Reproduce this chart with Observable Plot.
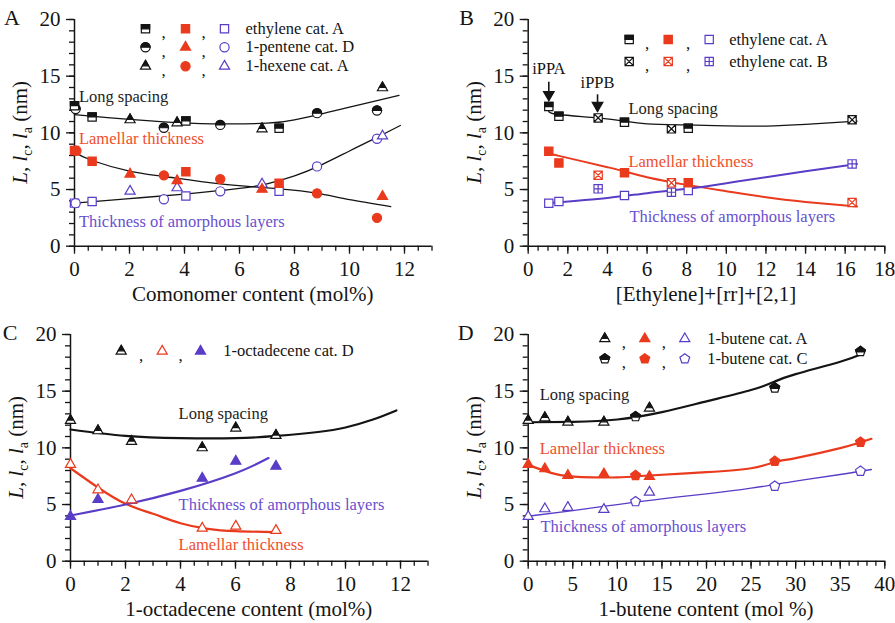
<!DOCTYPE html>
<html>
<head>
<meta charset="utf-8">
<script src="https://cdn.jsdelivr.net/npm/d3@7"></script>
<script src="https://cdn.jsdelivr.net/npm/@observablehq/plot@0.6"></script>
<style>
  body { margin: 0; background: #fff; }
  #fig { position: relative; width: 895px; height: 623px; overflow: hidden; font-family: "Liberation Serif", serif; }
</style>
</head>
<body>
<div id="fig"></div>
<script>
// ---------- Panel A: comonomer content (mol%) ----------
const aEthL   = [[0, 12.4], [0.64, 11.4], [4.05, 11.05], [7.44, 10.41]];
const aEthLc  = [[0, 8.45], [0.64, 7.5], [4.05, 6.56], [7.44, 5.56]];
const aEthLa  = [[0, 3.8], [0.64, 3.95], [4.05, 4.43], [7.44, 4.85]];
const aPenL   = [[0.04, 12.1], [3.25, 10.45], [5.3, 10.7], [8.82, 11.74], [11.0, 11.97]];
const aPenLc  = [[2.02, 6.36], [3.73, 5.78], [6.82, 5.02], [11.2, 4.39]];
const aPenLa  = [[0.04, 3.8], [3.25, 4.14], [5.3, 4.84], [8.82, 7.04], [11.0, 9.48]];
const aHexL   = [[2.02, 11.15], [3.73, 10.88], [6.82, 10.35], [11.2, 13.97]];
const aHexLc  = [[0.07, 8.42], [3.25, 6.25], [5.3, 5.92], [8.82, 4.66], [11.0, 2.5]];
const aHexLa  = [[2.02, 4.85], [3.73, 5.15], [6.82, 5.48], [11.2, 9.72]];
const aFitL   = [[0, 11.6], [1, 11.38], [2, 11.18], [3.25, 10.97], [5, 10.8], [7, 10.85], [8, 11.15], [9, 11.68], [10, 12.26], [11, 12.85], [11.8, 13.3]];
const aFitLc  = [[0, 8.3], [0.64, 7.56], [2, 6.62], [3.25, 6.15], [5.3, 5.5], [7.44, 5.06], [8.82, 4.68], [10, 4.1], [11.5, 3.5]];
const aFitLa  = [[0, 3.8], [2, 4.2], [4, 4.6], [6, 5.1], [7, 5.5], [8, 6.2], [9, 7.2], [10, 8.4], [11, 9.6], [11.85, 10.65]];

// ---------- Panel B: [Ethylene]+[rr]+[2,1] ----------
const bAL     = [[1.04, 12.32], [1.55, 11.47], [4.86, 10.94], [8.08, 10.41]];
const bALc    = [[1.04, 8.38], [1.55, 7.35], [4.86, 6.47], [8.08, 5.59]];
const bALa    = [[1.04, 3.79], [1.55, 3.94], [4.86, 4.47], [8.08, 4.91]];
const bBL     = [[3.53, 11.32], [7.23, 10.35], [16.35, 11.15]];
const bBLc    = [[3.53, 6.26], [7.23, 5.59], [16.35, 3.85]];
const bBLa    = [[3.53, 5.06], [7.23, 4.76], [16.35, 7.26]];
const bFitL   = [[1.04, 11.88], [1.55, 11.62], [3.5, 11.32], [4.86, 11.03], [6, 10.8], [8, 10.7], [10, 10.62], [12, 10.6], [14, 10.74], [16.6, 11.03]];
const bFitLc  = [[1.04, 8.15], [1.55, 7.97], [4, 6.97], [4.86, 6.6], [6, 6.09], [8, 5.41], [10, 4.85], [12, 4.32], [14, 3.91], [16.6, 3.5]];
const bFitLa  = [[1.04, 3.82], [4, 4.26], [6, 4.68], [8, 5.06], [10, 5.56], [12, 6.09], [14, 6.62], [16.6, 7.26]];
const bArrows = [
  {label: "iPPA", x: 1.04, top: 14.5, tip: 12.86, textY: 15.2},
  {label: "iPPB", x: 3.5, top: 13.4, tip: 11.9, textY: 14.0}
];

// ---------- Panel C: 1-octadecene content (mol%) ----------
const cL      = [[0, 12.41], [1.0, 11.5], [2.22, 10.56], [4.79, 10.0], [6.01, 11.74], [7.47, 11.09]];
const cLc     = [[0, 8.53], [1.0, 6.29], [2.22, 5.41], [4.79, 2.91], [6.01, 3.09], [7.47, 2.71]];
const cLa     = [[0, 3.94], [1.0, 5.44], [2.22, 5.35], [4.79, 7.32], [6.01, 8.82], [7.47, 8.38]];
const cFitL   = [[0, 11.62], [2, 11.05], [4, 10.85], [6, 10.85], [7.5, 11.05], [9, 11.4], [10, 11.8], [11, 12.5], [11.85, 13.3]];
const cFitLc  = [[0, 8.2], [1, 6.5], [2, 5.06], [3, 4.18], [4, 3.35], [5, 2.85], [6, 2.65], [7.5, 2.56]];
const cFitLa  = [[0, 4.03], [2, 5.0], [4, 6.2], [6, 7.76], [7.2, 9.1]];

// ---------- Panel D: 1-butene content (mol %) ----------
const dAL     = [[0, 12.41], [1.87, 12.65], [4.45, 12.26], [8.49, 12.26], [13.6, 13.5]];
const dALc    = [[0, 8.53], [1.87, 8.15], [4.45, 7.56], [8.49, 7.7], [13.6, 7.47]];
const dALa    = [[0, 3.94], [1.87, 4.62], [4.45, 4.74], [8.49, 4.56], [13.6, 6.09]];
const dCL     = [[12.04, 12.76], [27.66, 15.29], [37.27, 18.5]];
const dCLc    = [[12.04, 7.56], [27.66, 8.82], [37.27, 10.5]];
const dCLa    = [[12.04, 5.26], [27.66, 6.62], [37.27, 7.94]];
const dFitL   = [[0, 12.26], [5, 12.3], [10, 12.5], [15, 13.15], [20, 14.1], [25, 15.1], [27.66, 15.85], [30, 16.5], [35, 17.6], [37.5, 18.3]];
const dFitLc  = [[0, 8.5], [3, 7.7], [6, 7.42], [10, 7.4], [13.6, 7.56], [20, 7.85], [25, 8.2], [27.66, 8.74], [30, 9.1], [35, 9.97], [38.5, 10.8]];
const dFitLa  = [[0, 3.97], [5, 4.47], [10, 5.0], [15, 5.5], [20, 5.94], [25, 6.44], [30, 7.06], [35, 7.65], [38.5, 8.09]];

// ---------- curve annotations ----------
const aNotes = [
  {text: "Long spacing", x: 0.16, y: 12.71, kind: "L"},
  {text: "Lamellar thickness", x: 0.16, y: 9.06, kind: "lc"},
  {text: "Thickness of amorphous layers", x: 0.16, y: 1.65, kind: "la"}
];
const bNotes = [
  {text: "Long spacing", x: 5.06, y: 11.69, kind: "L"},
  {text: "Lamellar thickness", x: 5.06, y: 7.03, kind: "lc"},
  {text: "Thickness of amorphous layers", x: 5.11, y: 2.12, kind: "la"}
];
const cNotes = [
  {text: "Long spacing", x: 3.93, y: 12.57, kind: "L"},
  {text: "Thickness of amorphous layers", x: 3.93, y: 4.56, kind: "la"},
  {text: "Lamellar thickness", x: 3.93, y: 1.0, kind: "lc"}
];
const dNotes = [
  {text: "Long spacing", x: 1.3, y: 14.18, kind: "L"},
  {text: "Lamellar thickness", x: 1.3, y: 9.48, kind: "lc"},
  {text: "Thickness of amorphous layers", x: 1.38, y: 2.56, kind: "la"}
];

// ---------- styling ----------
const INK = "#141414", RED = "#ea3a1e", BLUE = "#5a3dc6";
const NOTE_COLOR = {L: "#1e1e1e", lc: "#f04e2c", la: "#6a4fd0"};
const FONT = "'Liberation Serif', 'Times New Roman', serif";
const R = 4.6;

// custom marker shapes (size is the symbol area, r = sqrt(size/π))
const rad = z => Math.sqrt(z / Math.PI);
function poly(c, p) { c.moveTo(p[0][0], p[0][1]); for (let i = 1; i < p.length; ++i) c.lineTo(p[i][0], p[i][1]); c.closePath(); }
function tri(z) { const a = rad(z) * 2.2, h = a * Math.sqrt(3) / 2; return {a, h}; }
function pent(z, cut) {
  const r = rad(z) * 1.12;
  const v = d3.range(5).map(k => { const t = (-90 + 72 * k) * Math.PI / 180; return [r * Math.cos(t), r * Math.sin(t)]; });
  if (!cut) return v;
  const yc = 0.1 * r, t = (yc - v[1][1]) / (v[2][1] - v[1][1]);
  const xc = v[1][0] + (v[2][0] - v[1][0]) * t;
  return [v[0], v[1], [xc, yc], [-xc, yc], v[4]];
}
const SYM = {
  square:      {draw(c, z) { const s = rad(z) * 0.9; poly(c, [[-s, -s], [s, -s], [s, s], [-s, s]]); }},
  squareTop:   {draw(c, z) { const s = rad(z) * 0.9; poly(c, [[-s, -s], [s, -s], [s, 0], [-s, 0]]); }},
  squareX:     {draw(c, z) { const s = rad(z) * 0.9; poly(c, [[-s, -s], [s, -s], [s, s], [-s, s]]); c.moveTo(-s, -s); c.lineTo(s, s); c.moveTo(s, -s); c.lineTo(-s, s); }},
  squarePlus:  {draw(c, z) { const s = rad(z) * 0.9; poly(c, [[-s, -s], [s, -s], [s, s], [-s, s]]); c.moveTo(0, -s); c.lineTo(0, s); c.moveTo(-s, 0); c.lineTo(s, 0); }},
  circle:      {draw(c, z) { const r = rad(z); c.moveTo(r, 0); c.arc(0, 0, r, 0, 2 * Math.PI); }},
  circleTop:   {draw(c, z) { const r = rad(z); c.moveTo(r, 0); c.arc(0, 0, r, 0, Math.PI, true); c.closePath(); }},
  triangle:    {draw(c, z) { const {a, h} = tri(z); poly(c, [[0, -2 * h / 3], [a / 2, h / 3], [-a / 2, h / 3]]); }},
  triangleTop: {draw(c, z) { const {a, h} = tri(z); const y = -2 * h / 3 + 0.62 * h; poly(c, [[0, -2 * h / 3], [0.31 * a, y], [-0.31 * a, y]]); }},
  pentagon:    {draw(c, z) { poly(c, pent(z, false)); }},
  pentagonTop: {draw(c, z) { poly(c, pent(z, true)); }}
};

const XY = {x: d => d[0], y: d => d[1]};

// a marker: "half" = black top half over white, "fill" = solid, "open" = outline on white
function marker(data, {shape, mode, color = INK}, pos = XY) {
  const base = {r: R, strokeWidth: 1.2, ...pos};
  if (mode === "half") return [
    Plot.dot(data, {...base, symbol: SYM[shape], fill: "white", stroke: color}),
    Plot.dot(data, {...base, symbol: SYM[shape + "Top"], fill: color, stroke: color})
  ];
  if (mode === "fill") return [Plot.dot(data, {...base, symbol: SYM[shape], fill: color, stroke: color})];
  return [Plot.dot(data, {...base, symbol: SYM[shape], fill: "white", stroke: color})];
}

function fit(data, color, w) {
  return Plot.line(data, {...XY, curve: "natural", stroke: color, strokeWidth: w});
}

function notes(data) {
  return Plot.text(data, {x: "x", y: "y", text: "text", fill: d => NOTE_COLOR[d.kind], textAnchor: "start", lineAnchor: "bottom", fontSize: 16.5});
}

// legend rows inside the frame: symbol , symbol , symbol   label
function legend(rows, dxs, dys) {
  const out = [];
  rows.forEach(([specs, label], i) => {
    const dy = dys[i];
    specs.forEach((s, j) => out.push(...marker([0], s, {frameAnchor: "top-left", dx: dxs[2 * j], dy})));
    [1, 3].forEach(j => out.push(Plot.text([","], {frameAnchor: "top-left", dx: dxs[j], dy: dy + 4, text: d => d, textAnchor: "middle", lineAnchor: "middle", fontSize: 17, fill: INK})));
    out.push(Plot.text([label], {frameAnchor: "top-left", dx: dxs[5], dy, text: d => d, textAnchor: "start", lineAnchor: "middle", fontSize: 16.5, fill: INK}));
  });
  return out;
}

const fig = document.getElementById("fig");

function panel({left, top, width, height, ml, mr, mt, mb, xDomain, xMajor, xMinor, marks, letter, letterPos, xTitle}) {
  const svg = Plot.plot({
    width, height,
    marginLeft: ml, marginRight: mr, marginTop: mt, marginBottom: mb,
    x: {domain: xDomain},
    y: {domain: [0, 20]},
    style: {fontFamily: FONT, fontSize: "21px", background: "transparent", overflow: "visible", color: INK},
    marks: [
      Plot.axisX({ticks: xMinor, tickSize: 5, tickFormat: () => "", label: null, strokeWidth: 1.3}),
      Plot.axisX({ticks: xMajor, tickSize: 8, tickPadding: 7, tickFormat: d => String(d), fontSize: 21, label: null, strokeWidth: 1.3}),
      Plot.axisY({ticks: d3.range(0, 21, 1), tickSize: 5, tickFormat: () => "", label: null, strokeWidth: 1.3}),
      Plot.axisY({ticks: [0, 5, 10, 15, 20], tickSize: 8, tickPadding: 6, tickFormat: d => String(d), fontSize: 21, label: null, strokeWidth: 1.3}),
      Plot.ruleX([xDomain[0]], {strokeWidth: 1.5, stroke: INK}),
      Plot.ruleY([0], {strokeWidth: 1.5, stroke: INK}),
      ...marks
    ]
  });
  const s = d3.select(svg);
  const plotW = width - ml - mr, plotH = height - mt - mb;
  // panel letter
  s.append("text").attr("x", letterPos[0]).attr("y", letterPos[1])
    .attr("font-size", 22).attr("font-family", FONT).attr("fill", INK).text(letter);
  // x-axis title
  s.append("text").attr("x", ml + plotW / 2).attr("y", mt + plotH + 55)
    .attr("text-anchor", "middle").attr("font-size", 21).attr("font-family", FONT).attr("fill", INK).text(xTitle);
  // y-axis title: L, lc, la (nm)
  const t = s.append("text")
    .attr("transform", `translate(${ml - 47},${mt + plotH / 2}) rotate(-90)`)
    .attr("text-anchor", "middle").attr("font-size", 21).attr("font-family", FONT).attr("fill", INK);
  t.append("tspan").attr("font-style", "italic").text("L");
  t.append("tspan").text(", ");
  t.append("tspan").attr("font-style", "italic").text("l");
  t.append("tspan").attr("font-size", 14).attr("dy", 5).text("c");
  t.append("tspan").attr("dy", -5).text(", ");
  t.append("tspan").attr("font-style", "italic").text("l");
  t.append("tspan").attr("font-size", 14).attr("dy", 5).text("a");
  t.append("tspan").attr("dy", -5).text("\u00a0(nm)");
  svg.style.position = "absolute";
  svg.style.left = left + "px";
  svg.style.top = top + "px";
  fig.appendChild(svg);
}

const HALF = shape => ({shape, mode: "half", color: INK});
const FILL = (shape, color) => ({shape, mode: "fill", color});
const OPEN = (shape, color) => ({shape, mode: "open", color});

// Panel A
panel({
  left: 0, top: 0, width: 447, height: 305, ml: 74, mr: 15.5, mt: 19, mb: 59.3,
  xDomain: [0, 13], xMajor: d3.range(0, 13, 2), xMinor: d3.range(0, 13.01, 0.5),
  letter: "A", letterPos: [12, 25], xTitle: "Comonomer content (mol%)",
  marks: [
    fit(aFitL, INK, 1.3), fit(aFitLc, INK, 1.3), fit(aFitLa, INK, 1.3),
    ...marker(aEthLa, OPEN("square", BLUE)), ...marker(aPenLa, OPEN("circle", BLUE)), ...marker(aHexLa, OPEN("triangle", BLUE)),
    ...marker(aEthLc, FILL("square", RED)), ...marker(aPenLc, FILL("triangle", RED)), ...marker(aHexLc, FILL("circle", RED)),
    ...marker(aPenL, HALF("circle")), ...marker(aEthL, HALF("square")), ...marker(aHexL, HALF("triangle")),
    notes(aNotes),
    ...legend([
      [[HALF("square"), FILL("square", RED), OPEN("square", BLUE)], "ethylene cat. A"],
      [[HALF("circle"), FILL("triangle", RED), OPEN("circle", BLUE)], "1-pentene cat. D"],
      [[HALF("triangle"), FILL("circle", RED), OPEN("triangle", BLUE)], "1-hexene cat. A"]
    ], [71, 89, 111, 129, 150, 171], [9.3, 27.7, 46.7])
  ]
});

// Panel B
panel({
  left: 445, top: 0, width: 450, height: 305, ml: 82.7, mr: 10.7, mt: 19, mb: 59.3,
  xDomain: [0, 18], xMajor: d3.range(0, 19, 2), xMinor: d3.range(0, 18.01, 0.5),
  letter: "B", letterPos: [21.7, 25], xTitle: "[Ethylene]+[rr]+[2,1]",
  marks: [
    fit(bFitL, INK, 1.3), fit(bFitLc, RED, 2), fit(bFitLa, BLUE, 2),
    ...marker(bALa, OPEN("square", BLUE)), ...marker(bBLa, OPEN("squarePlus", BLUE)),
    ...marker(bALc, FILL("square", RED)), ...marker(bBLc, OPEN("squareX", RED)),
    ...marker(bAL, HALF("square")), ...marker(bBL, OPEN("squareX", INK)),
    Plot.link(bArrows, {x1: "x", x2: "x", y1: "top", y2: "tip", stroke: INK, strokeWidth: 1.6}),
    Plot.dot(bArrows, {x: "x", y: "tip", dy: -5.8, symbol: SYM.triangle, rotate: 180, r: 4.6, fill: INK, stroke: INK}),
    Plot.text(bArrows, {x: "x", y: "textY", text: "label", lineAnchor: "bottom", fontSize: 16.5, fill: INK}),
    notes(bNotes),
    ...legend([
      [[HALF("square"), FILL("square", RED), OPEN("square", BLUE)], "ethylene cat. A"],
      [[OPEN("squareX", INK), OPEN("squareX", RED), OPEN("squarePlus", BLUE)], "ethylene cat. B"]
    ], [101, 119, 140, 160, 181, 201], [20, 42])
  ]
});

// Panel C
panel({
  left: 0, top: 305, width: 447, height: 318, ml: 70, mr: 19.5, mt: 29, mb: 62.3,
  xDomain: [0, 13], xMajor: d3.range(0, 13, 2), xMinor: d3.range(0, 13.01, 0.5),
  letter: "C", letterPos: [10, 35], xTitle: "1-octadecene content (mol%)",
  marks: [
    fit(cFitL, INK, 2.2), fit(cFitLc, RED, 2.2), fit(cFitLa, BLUE, 2.2),
    ...marker(cLa, FILL("triangle", BLUE)),
    ...marker(cLc, OPEN("triangle", RED)),
    ...marker(cL, HALF("triangle")),
    notes(cNotes),
    ...legend([
      [[HALF("triangle"), OPEN("triangle", RED), FILL("triangle", BLUE)], "1-octadecene cat. D"]
    ], [50.7, 70.7, 91.7, 110, 130, 152.7], [16.7])
  ]
});

// Panel D
panel({
  left: 445, top: 305, width: 450, height: 318, ml: 82.7, mr: 10.7, mt: 29, mb: 62.3,
  xDomain: [0, 40], xMajor: d3.range(0, 41, 5), xMinor: d3.range(0, 41, 1),
  letter: "D", letterPos: [20.7, 35], xTitle: "1-butene content (mol %)",
  marks: [
    fit(dFitL, INK, 2.2), fit(dFitLc, RED, 2.2), fit(dFitLa, BLUE, 1.3),
    ...marker(dALa, OPEN("triangle", BLUE)), ...marker(dCLa, OPEN("pentagon", BLUE)),
    ...marker(dALc, FILL("triangle", RED)), ...marker(dCLc, FILL("pentagon", RED)),
    ...marker(dAL, HALF("triangle")), ...marker(dCL, HALF("pentagon")),
    notes(dNotes),
    ...legend([
      [[HALF("triangle"), FILL("triangle", RED), OPEN("triangle", BLUE)], "1-butene cat. A"],
      [[HALF("pentagon"), FILL("pentagon", RED), OPEN("pentagon", BLUE)], "1-butene cat. C"]
    ], [76.6, 95.6, 116.6, 135.6, 156.6, 179], [4.3, 24.3])
  ]
});
</script>
</body>
</html>
